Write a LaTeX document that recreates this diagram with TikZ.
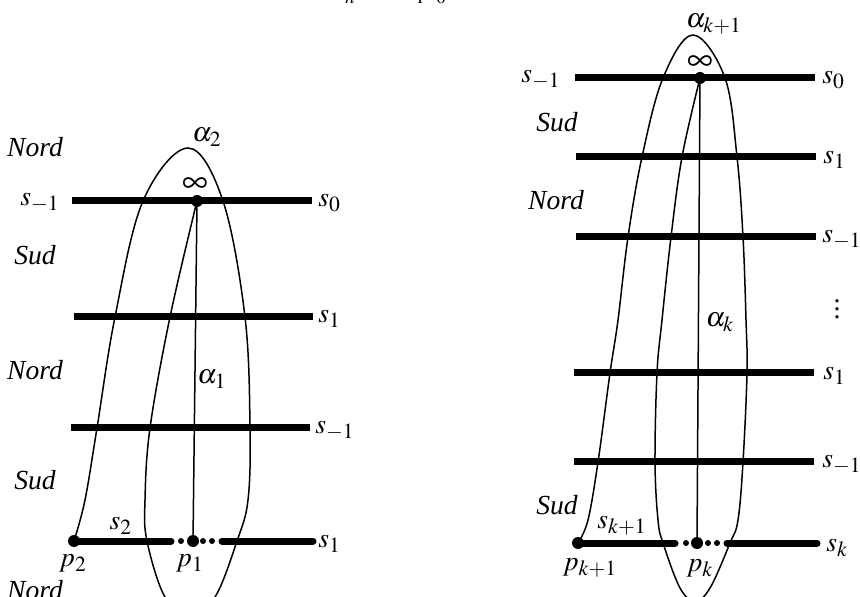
\documentclass[tikz,border=0pt]{standalone}
\usepackage{mathptmx}
\usepackage{fontspec}
\setmainfont{Liberation Serif}
\DeclareMathSizes{13.8}{13.8}{10.8}{8}
\begin{document}
\begin{tikzpicture}[x=0.5pt,y=-0.5pt,
  every node/.style={font=\fontsize{13.8}{16}\selectfont, inner sep=0pt},
  strand/.style={line width=3.5pt},
  curveline/.style={line width=0.75pt},
  bigdot/.style={fill=black, circle, minimum size=6pt, inner sep=0pt},
  smalldot/.style={fill=black, circle, minimum size=3pt, inner sep=0pt},
  reg/.style={font=\fontsize{13.8}{16}\selectfont\itshape},
  infty/.style={font=\fontsize{18}{20}\selectfont},
  sub/.style={anchor=base, font=\fontsize{9.5}{10}\selectfont}]
\useasboundingbox (0,0) rectangle (860,597);
\clip (0,0) rectangle (860,597);
% top cut-off text
\node[sub] (t1) at (350,4) {$n$};
\node[sub] (t2) at (420,4) {$1$};
\node[sub] (t3) at (441,4) {$0$};
% ===== left panel =====
\coordinate (a1) at (72,201); \coordinate (b1) at (312,201);
\coordinate (a2) at (74,317); \coordinate (b2) at (313,317);
\coordinate (a3) at (71,428); \coordinate (b3) at (310,428);
\coordinate (b4) at (313,541);
\coordinate (c4) at (171,541); \coordinate (d4) at (222,541);
\draw[strand] (a1) -- (b1);
\draw[strand] (a2) -- (b2);
\draw[strand] (a3) -- (b3);
\node[bigdot] (inf1) at (197,201) {};
\node[bigdot] (p2) at (74,541) {};
\node[bigdot] (p1) at (193,541) {};
\draw[strand, line cap=round] (p2.center) -- (c4);
\draw[strand, line cap=round] (d4) -- (b4);
\foreach \x in {181,203,212} \node[smalldot] at (\x,541) {};
\draw[curveline] (inf1.center) -- (p1.center);
\draw[curveline] plot[smooth, tension=0.6] coordinates {
 (p2.center) (85,500) (97,428) (115,317) (143,201) (188,148) (223,201) (245,317)
 (250,428) (248,500) (237,541) (215,597) (190,614) (165,597) (147,541) (145,500)
 (150,428) (170,317) (inf1.center)};
\node[infty] (linf1) at (195,185) {$\infty$};
\node (al2) at (207,137) {$\alpha_2$};
\node (al1) at (212,379) {$\alpha_1$};
\node (ls2) at (121,526) {$s_2$};
\node (lp2) at (73,563) {$p_2$};
\node (lp1) at (190,563) {$p_1$};
\node[anchor=east] (l1) at (60,203) {$s_{-1}$};
\node[anchor=west] (r1) at (318,203) {$s_0$};
\node[anchor=west] (r2) at (318,319) {$s_1$};
\node[anchor=west] (r3) at (315,431) {$s_{-1}$};
\node[anchor=west] (r4) at (318,544) {$s_1$};
\node[reg] (n1) at (35,147) {Nord};
\node[reg] (n2) at (35,255) {Sud};
\node[reg] (n3) at (35,370) {Nord};
\node[reg] (n4) at (35,480) {Sud};
\node[reg] (n5) at (35,590) {Nord};
% ===== right panel =====
\coordinate (e1) at (575,78); \coordinate (f1) at (815,78);
\coordinate (e2) at (576,157); \coordinate (f2) at (816,157);
\coordinate (e3) at (576,237); \coordinate (f3) at (816,237);
\coordinate (e4) at (574,373); \coordinate (f4) at (814,373);
\coordinate (e5) at (574,462); \coordinate (f5) at (814,462);
\coordinate (f6) at (817,543);
\coordinate (g6) at (675,543); \coordinate (h6) at (727,543);
\draw[strand] (e1) -- (f1);
\draw[strand] (e2) -- (f2);
\draw[strand] (e3) -- (f3);
\draw[strand] (e4) -- (f4);
\draw[strand] (e5) -- (f5);
\node[bigdot] (inf2) at (700,78) {};
\node[bigdot] (pk1) at (578,543) {};
\node[bigdot] (pk) at (697,543) {};
\draw[strand, line cap=round] (pk1.center) -- (g6);
\draw[strand, line cap=round] (h6) -- (f6);
\foreach \x in {686,708,717} \node[smalldot] at (\x,543) {};
\draw[curveline] (inf2.center) -- (pk.center);
\draw[curveline] plot[smooth, tension=0.6] coordinates {
 (pk1.center) (588,520) (598,462) (610,373) (618,320) (628,237) (642,157) (663,78)
 (693,35) (725,78) (737,157) (743,237) (746,320) (747,373) (743,462) (738,520)
 (730,543) (710,588) (695,601) (680,588) (663,543) (658,520) (655,462) (657,373)
 (662,320) (671,237) (682,157) (inf2.center)};
\node[infty] (linf2) at (700,63) {$\infty$};
\node (alk1) at (714,24) {$\alpha_{k+1}$};
\node (alk) at (720,322) {$\alpha_k$};
\node (lsk1) at (622,526) {$s_{k+1}$};
\node (lpk1) at (590,568) {$p_{k+1}$};
\node (lpk) at (700,568) {$p_k$};
\node[anchor=east] (m1) at (561,80) {$s_{-1}$};
\node[anchor=west] (q1) at (822,80) {$s_0$};
\node[anchor=west] (q2) at (823,160) {$s_1$};
\node[anchor=west] (q3) at (822,240) {$s_{-1}$};
\node (vd) at (837,303) {$\vdots$};
\node[anchor=west] (q4) at (823,376) {$s_1$};
\node[anchor=west] (q5) at (822,465) {$s_{-1}$};
\node[anchor=west] (q6) at (826,548) {$s_k$};
\node[reg] (o1) at (557,122) {Sud};
\node[reg] (o2) at (556,200) {Nord};
\node[reg] (o3) at (557,505) {Sud};
\end{tikzpicture}
\end{document}
